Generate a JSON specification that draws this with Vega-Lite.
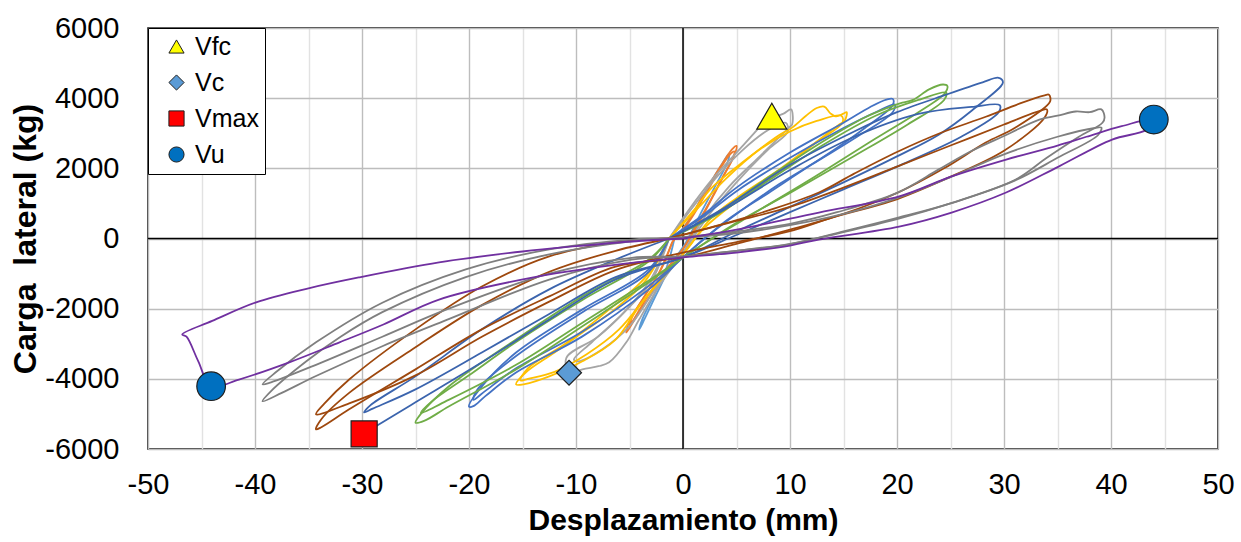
{
"$schema": "https://vega.github.io/schema/vega-lite/v6.json",
"width": 1070, "height": 421,
"autosize": {"type": "none"},
"padding": {"left": 148, "top": 28, "right": 23, "bottom": 93},
"background": "white",
"config": {"view": {"stroke": "#000", "strokeWidth": 1.5}, "font": "Liberation Sans"},
"datasets": {
"loops": [
{"s":"L1","i":0,"x":-0.8,"y":0},{"s":"L1","i":1,"x":0.5,"y":500},{"s":"L1","i":2,"x":2,"y":1300},{"s":"L1","i":3,"x":3.5,"y":2050},{"s":"L1","i":4,"x":4.3,"y":2420},{"s":"L1","i":5,"x":4.2,"y":2200},{"s":"L1","i":6,"x":3.2,"y":1600},{"s":"L1","i":7,"x":1.8,"y":800},{"s":"L1","i":8,"x":0.3,"y":-100},{"s":"L1","i":9,"x":-1,"y":-700},{"s":"L1","i":10,"x":-2.5,"y":-1600},{"s":"L1","i":11,"x":-3.6,"y":-2300},{"s":"L1","i":12,"x":-4.1,"y":-2600},{"s":"L1","i":13,"x":-3.8,"y":-2300},{"s":"L1","i":14,"x":-2.7,"y":-1600},{"s":"L1","i":15,"x":-1.5,"y":-800},{"s":"L1","i":16,"x":-0.8,"y":0},
{"s":"O1","i":0,"x":-1,"y":-100},{"s":"O1","i":1,"x":0.5,"y":500},{"s":"O1","i":2,"x":2,"y":1300},{"s":"O1","i":3,"x":3.5,"y":2050},{"s":"O1","i":4,"x":4.6,"y":2550},{"s":"O1","i":5,"x":5.0,"y":2640},{"s":"O1","i":6,"x":4.9,"y":2450},{"s":"O1","i":7,"x":4,"y":1900},{"s":"O1","i":8,"x":2.8,"y":1200},{"s":"O1","i":9,"x":1.5,"y":450},{"s":"O1","i":10,"x":0,"y":-300},{"s":"O1","i":11,"x":-1.5,"y":-900},{"s":"O1","i":12,"x":-3,"y":-1600},{"s":"O1","i":13,"x":-4.5,"y":-2300},{"s":"O1","i":14,"x":-5.3,"y":-2680},{"s":"O1","i":15,"x":-5.0,"y":-2350},{"s":"O1","i":16,"x":-3.6,"y":-1650},{"s":"O1","i":17,"x":-2.2,"y":-950},{"s":"O1","i":18,"x":-1,"y":-100},
{"s":"O2","i":0,"x":-1,"y":-100},{"s":"O2","i":1,"x":0.5,"y":450},{"s":"O2","i":2,"x":2,"y":1200},{"s":"O2","i":3,"x":3.4,"y":1950},{"s":"O2","i":4,"x":4.4,"y":2400},{"s":"O2","i":5,"x":4.8,"y":2480},{"s":"O2","i":6,"x":4.6,"y":2250},{"s":"O2","i":7,"x":3.7,"y":1750},{"s":"O2","i":8,"x":2.5,"y":1050},{"s":"O2","i":9,"x":1.2,"y":350},{"s":"O2","i":10,"x":0,"y":-300},{"s":"O2","i":11,"x":-1.5,"y":-850},{"s":"O2","i":12,"x":-3,"y":-1500},{"s":"O2","i":13,"x":-4.3,"y":-2150},{"s":"O2","i":14,"x":-5.0,"y":-2500},{"s":"O2","i":15,"x":-4.7,"y":-2200},{"s":"O2","i":16,"x":-3.4,"y":-1550},{"s":"O2","i":17,"x":-2.0,"y":-850},{"s":"O2","i":18,"x":-1,"y":-100},
{"s":"G1","i":0,"x":-1.3,"y":0},{"s":"G1","i":1,"x":0.5,"y":800},{"s":"G1","i":2,"x":2.7,"y":1680},{"s":"G1","i":3,"x":5,"y":2450},{"s":"G1","i":4,"x":7.1,"y":3160},{"s":"G1","i":5,"x":7.7,"y":3400},{"s":"G1","i":6,"x":8.6,"y":3470},{"s":"G1","i":7,"x":9.4,"y":3560},{"s":"G1","i":8,"x":10.1,"y":3680},{"s":"G1","i":9,"x":10.2,"y":3250},{"s":"G1","i":10,"x":9.9,"y":3160},{"s":"G1","i":11,"x":7.2,"y":2350},{"s":"G1","i":12,"x":4.3,"y":1480},{"s":"G1","i":13,"x":2,"y":600},{"s":"G1","i":14,"x":0,"y":-400},{"s":"G1","i":15,"x":-2,"y":-1250},{"s":"G1","i":16,"x":-4.1,"y":-2310},{"s":"G1","i":17,"x":-5.3,"y":-2960},{"s":"G1","i":18,"x":-6.9,"y":-3530},{"s":"G1","i":19,"x":-7.9,"y":-3640},{"s":"G1","i":20,"x":-9.4,"y":-3730},{"s":"G1","i":21,"x":-10.6,"y":-3850},{"s":"G1","i":22,"x":-10.9,"y":-3400},{"s":"G1","i":23,"x":-7.9,"y":-2790},{"s":"G1","i":24,"x":-5,"y":-1950},{"s":"G1","i":25,"x":-3,"y":-1250},{"s":"G1","i":26,"x":-1.3,"y":0},
{"s":"G2","i":0,"x":-1.3,"y":0},{"s":"G2","i":1,"x":0.8,"y":850},{"s":"G2","i":2,"x":3,"y":1700},{"s":"G2","i":3,"x":5.5,"y":2500},{"s":"G2","i":4,"x":8,"y":3100},{"s":"G2","i":5,"x":9.6,"y":3300},{"s":"G2","i":6,"x":9.8,"y":3050},{"s":"G2","i":7,"x":8,"y":2550},{"s":"G2","i":8,"x":5,"y":1600},{"s":"G2","i":9,"x":2.5,"y":700},{"s":"G2","i":10,"x":0,"y":-400},{"s":"G2","i":11,"x":-2.5,"y":-1400},{"s":"G2","i":12,"x":-5,"y":-2500},{"s":"G2","i":13,"x":-7.5,"y":-3150},{"s":"G2","i":14,"x":-9.8,"y":-3500},{"s":"G2","i":15,"x":-10.2,"y":-3450},{"s":"G2","i":16,"x":-8.5,"y":-2950},{"s":"G2","i":17,"x":-5.5,"y":-2100},{"s":"G2","i":18,"x":-3,"y":-1150},{"s":"G2","i":19,"x":-1.3,"y":0},
{"s":"Y1","i":0,"x":-1.3,"y":0},{"s":"Y1","i":1,"x":1,"y":800},{"s":"Y1","i":2,"x":2.7,"y":1450},{"s":"Y1","i":3,"x":5.9,"y":2250},{"s":"Y1","i":4,"x":9,"y":2950},{"s":"Y1","i":5,"x":10.2,"y":3160},{"s":"Y1","i":6,"x":11.5,"y":3500},{"s":"Y1","i":7,"x":12.5,"y":3720},{"s":"Y1","i":8,"x":13.2,"y":3760},{"s":"Y1","i":9,"x":13.8,"y":3560},{"s":"Y1","i":10,"x":14.3,"y":3480},{"s":"Y1","i":11,"x":15.0,"y":3560},{"s":"Y1","i":12,"x":15.3,"y":3600},{"s":"Y1","i":13,"x":15.1,"y":3350},{"s":"Y1","i":14,"x":14.6,"y":3250},{"s":"Y1","i":15,"x":12,"y":2650},{"s":"Y1","i":16,"x":9,"y":1970},{"s":"Y1","i":17,"x":5,"y":1150},{"s":"Y1","i":18,"x":2.7,"y":600},{"s":"Y1","i":19,"x":0,"y":-450},{"s":"Y1","i":20,"x":-2,"y":-1150},{"s":"Y1","i":21,"x":-4.1,"y":-1940},{"s":"Y1","i":22,"x":-6.3,"y":-2880},{"s":"Y1","i":23,"x":-9.4,"y":-3500},{"s":"Y1","i":24,"x":-12.5,"y":-3930},{"s":"Y1","i":25,"x":-14.8,"y":-4150},{"s":"Y1","i":26,"x":-15.6,"y":-4160},{"s":"Y1","i":27,"x":-14.7,"y":-3820},{"s":"Y1","i":28,"x":-12,"y":-3250},{"s":"Y1","i":29,"x":-9.4,"y":-2680},{"s":"Y1","i":30,"x":-6.3,"y":-2000},{"s":"Y1","i":31,"x":-3.5,"y":-1200},{"s":"Y1","i":32,"x":-1.3,"y":0},
{"s":"Y2","i":0,"x":-1.3,"y":0},{"s":"Y2","i":1,"x":1.5,"y":900},{"s":"Y2","i":2,"x":4,"y":1700},{"s":"Y2","i":3,"x":7,"y":2500},{"s":"Y2","i":4,"x":10,"y":3050},{"s":"Y2","i":5,"x":12.5,"y":3350},{"s":"Y2","i":6,"x":14.8,"y":3500},{"s":"Y2","i":7,"x":14.9,"y":3300},{"s":"Y2","i":8,"x":12.5,"y":2750},{"s":"Y2","i":9,"x":9,"y":1900},{"s":"Y2","i":10,"x":5,"y":1050},{"s":"Y2","i":11,"x":2,"y":300},{"s":"Y2","i":12,"x":0,"y":-450},{"s":"Y2","i":13,"x":-3,"y":-1500},{"s":"Y2","i":14,"x":-6,"y":-2600},{"s":"Y2","i":15,"x":-9,"y":-3300},{"s":"Y2","i":16,"x":-12,"y":-3800},{"s":"Y2","i":17,"x":-14.5,"y":-4000},{"s":"Y2","i":18,"x":-15.2,"y":-4050},{"s":"Y2","i":19,"x":-14.5,"y":-3700},{"s":"Y2","i":20,"x":-11,"y":-3000},{"s":"Y2","i":21,"x":-7,"y":-2050},{"s":"Y2","i":22,"x":-3.5,"y":-1100},{"s":"Y2","i":23,"x":-1.3,"y":0},
{"s":"B1","i":0,"x":-1.3,"y":0},{"s":"B1","i":1,"x":2,"y":700},{"s":"B1","i":2,"x":5,"y":1450},{"s":"B1","i":3,"x":10,"y":2450},{"s":"B1","i":4,"x":15,"y":3300},{"s":"B1","i":5,"x":17.5,"y":3750},{"s":"B1","i":6,"x":19,"y":3960},{"s":"B1","i":7,"x":19.6,"y":3980},{"s":"B1","i":8,"x":19.6,"y":3800},{"s":"B1","i":9,"x":17,"y":3150},{"s":"B1","i":10,"x":13,"y":2300},{"s":"B1","i":11,"x":9,"y":1550},{"s":"B1","i":12,"x":5,"y":700},{"s":"B1","i":13,"x":2,"y":0},{"s":"B1","i":14,"x":0,"y":-540},{"s":"B1","i":15,"x":-3.2,"y":-1450},{"s":"B1","i":16,"x":-9.4,"y":-2790},{"s":"B1","i":17,"x":-15.6,"y":-3820},{"s":"B1","i":18,"x":-18.5,"y":-4500},{"s":"B1","i":19,"x":-19.6,"y":-4780},{"s":"B1","i":20,"x":-20,"y":-4790},{"s":"B1","i":21,"x":-18.8,"y":-4220},{"s":"B1","i":22,"x":-15.6,"y":-3250},{"s":"B1","i":23,"x":-9.4,"y":-2020},{"s":"B1","i":24,"x":-3.2,"y":-880},{"s":"B1","i":25,"x":-1.3,"y":0},
{"s":"B2","i":0,"x":-1.3,"y":0},{"s":"B2","i":1,"x":2,"y":650},{"s":"B2","i":2,"x":5,"y":1350},{"s":"B2","i":3,"x":10,"y":2300},{"s":"B2","i":4,"x":15,"y":3150},{"s":"B2","i":5,"x":18,"y":3600},{"s":"B2","i":6,"x":19.8,"y":3820},{"s":"B2","i":7,"x":19.6,"y":3600},{"s":"B2","i":8,"x":16,"y":2850},{"s":"B2","i":9,"x":12,"y":2100},{"s":"B2","i":10,"x":8,"y":1300},{"s":"B2","i":11,"x":4,"y":500},{"s":"B2","i":12,"x":0,"y":-540},{"s":"B2","i":13,"x":-3.2,"y":-1350},{"s":"B2","i":14,"x":-9.4,"y":-2650},{"s":"B2","i":15,"x":-15.6,"y":-3700},{"s":"B2","i":16,"x":-18.5,"y":-4350},{"s":"B2","i":17,"x":-19.6,"y":-4600},{"s":"B2","i":18,"x":-19.2,"y":-4300},{"s":"B2","i":19,"x":-15.6,"y":-3350},{"s":"B2","i":20,"x":-9.4,"y":-2100},{"s":"B2","i":21,"x":-3.2,"y":-950},{"s":"B2","i":22,"x":-1.3,"y":0},
{"s":"E1","i":0,"x":-1.3,"y":0},{"s":"E1","i":1,"x":3,"y":700},{"s":"E1","i":2,"x":8,"y":1750},{"s":"E1","i":3,"x":13,"y":2750},{"s":"E1","i":4,"x":17,"y":3450},{"s":"E1","i":5,"x":19.8,"y":3800},{"s":"E1","i":6,"x":20.5,"y":3870},{"s":"E1","i":7,"x":21.5,"y":3950},{"s":"E1","i":8,"x":23,"y":4250},{"s":"E1","i":9,"x":24.3,"y":4390},{"s":"E1","i":10,"x":24.7,"y":4350},{"s":"E1","i":11,"x":24.5,"y":4150},{"s":"E1","i":12,"x":22,"y":3600},{"s":"E1","i":13,"x":18,"y":2850},{"s":"E1","i":14,"x":12,"y":1700},{"s":"E1","i":15,"x":6,"y":600},{"s":"E1","i":16,"x":0,"y":-540},{"s":"E1","i":17,"x":-3.2,"y":-1250},{"s":"E1","i":18,"x":-9.4,"y":-2500},{"s":"E1","i":19,"x":-15.6,"y":-3730},{"s":"E1","i":20,"x":-21.9,"y":-4790},{"s":"E1","i":21,"x":-24.2,"y":-5200},{"s":"E1","i":22,"x":-25,"y":-5250},{"s":"E1","i":23,"x":-24.5,"y":-5000},{"s":"E1","i":24,"x":-21.9,"y":-4220},{"s":"E1","i":25,"x":-15.6,"y":-2880},{"s":"E1","i":26,"x":-9.4,"y":-1650},{"s":"E1","i":27,"x":-3.2,"y":-600},{"s":"E1","i":28,"x":-1.3,"y":0},
{"s":"E2","i":0,"x":-1.3,"y":0},{"s":"E2","i":1,"x":3,"y":650},{"s":"E2","i":2,"x":8,"y":1650},{"s":"E2","i":3,"x":13,"y":2650},{"s":"E2","i":4,"x":18,"y":3500},{"s":"E2","i":5,"x":22,"y":3950},{"s":"E2","i":6,"x":24.6,"y":4160},{"s":"E2","i":7,"x":24.4,"y":3950},{"s":"E2","i":8,"x":21,"y":3250},{"s":"E2","i":9,"x":16,"y":2350},{"s":"E2","i":10,"x":10,"y":1300},{"s":"E2","i":11,"x":5,"y":450},{"s":"E2","i":12,"x":0,"y":-540},{"s":"E2","i":13,"x":-3.2,"y":-1200},{"s":"E2","i":14,"x":-9.4,"y":-2400},{"s":"E2","i":15,"x":-15.6,"y":-3600},{"s":"E2","i":16,"x":-21.9,"y":-4600},{"s":"E2","i":17,"x":-24.5,"y":-4970},{"s":"E2","i":18,"x":-23.5,"y":-4650},{"s":"E2","i":19,"x":-20,"y":-3900},{"s":"E2","i":20,"x":-15.6,"y":-2950},{"s":"E2","i":21,"x":-9.4,"y":-1750},{"s":"E2","i":22,"x":-3.2,"y":-650},{"s":"E2","i":23,"x":-1.3,"y":0},
{"s":"D1","i":0,"x":-1.3,"y":0},{"s":"D1","i":1,"x":4,"y":900},{"s":"D1","i":2,"x":10,"y":2100},{"s":"D1","i":3,"x":16,"y":3050},{"s":"D1","i":4,"x":20,"y":3600},{"s":"D1","i":5,"x":24.6,"y":4100},{"s":"D1","i":6,"x":28,"y":4450},{"s":"D1","i":7,"x":29.5,"y":4580},{"s":"D1","i":8,"x":29.9,"y":4450},{"s":"D1","i":9,"x":27,"y":3650},{"s":"D1","i":10,"x":23.9,"y":2960},{"s":"D1","i":11,"x":20,"y":2340},{"s":"D1","i":12,"x":15,"y":1600},{"s":"D1","i":13,"x":10,"y":900},{"s":"D1","i":14,"x":5,"y":200},{"s":"D1","i":15,"x":0,"y":-540},{"s":"D1","i":16,"x":-6.3,"y":-1100},{"s":"D1","i":17,"x":-12.5,"y":-2150},{"s":"D1","i":18,"x":-18.8,"y":-3250},{"s":"D1","i":19,"x":-25,"y":-4300},{"s":"D1","i":20,"x":-29,"y":-4850},{"s":"D1","i":21,"x":-29.8,"y":-4960},{"s":"D1","i":22,"x":-29.2,"y":-4750},{"s":"D1","i":23,"x":-25,"y":-3930},{"s":"D1","i":24,"x":-18.8,"y":-2590},{"s":"D1","i":25,"x":-12.5,"y":-1450},{"s":"D1","i":26,"x":-6.3,"y":-600},{"s":"D1","i":27,"x":-1.3,"y":0},
{"s":"D2","i":0,"x":-1.3,"y":0},{"s":"D2","i":1,"x":4,"y":850},{"s":"D2","i":2,"x":10,"y":1950},{"s":"D2","i":3,"x":16,"y":2900},{"s":"D2","i":4,"x":22,"y":3550},{"s":"D2","i":5,"x":27,"y":3750},{"s":"D2","i":6,"x":29.6,"y":3800},{"s":"D2","i":7,"x":29.5,"y":3600},{"s":"D2","i":8,"x":26,"y":2900},{"s":"D2","i":9,"x":20,"y":2050},{"s":"D2","i":10,"x":15,"y":1400},{"s":"D2","i":11,"x":10,"y":750},{"s":"D2","i":12,"x":5,"y":100},{"s":"D2","i":13,"x":0,"y":-540},{"s":"D2","i":14,"x":-6.3,"y":-1170},{"s":"D2","i":15,"x":-12.5,"y":-2310},{"s":"D2","i":16,"x":-18.8,"y":-3530},{"s":"D2","i":17,"x":-25,"y":-4670},{"s":"D2","i":18,"x":-28.7,"y":-5350},{"s":"D2","i":19,"x":-29.7,"y":-5530},
{"s":"R1","i":0,"x":-1.3,"y":0},{"s":"R1","i":1,"x":3,"y":350},{"s":"R1","i":2,"x":8,"y":800},{"s":"R1","i":3,"x":12.7,"y":1310},{"s":"R1","i":4,"x":16,"y":1850},{"s":"R1","i":5,"x":20.1,"y":2480},{"s":"R1","i":6,"x":24,"y":3000},{"s":"R1","i":7,"x":28.3,"y":3470},{"s":"R1","i":8,"x":31.5,"y":3850},{"s":"R1","i":9,"x":33.8,"y":4080},{"s":"R1","i":10,"x":34.2,"y":4100},{"s":"R1","i":11,"x":34.3,"y":3900},{"s":"R1","i":12,"x":31,"y":3150},{"s":"R1","i":13,"x":28.3,"y":2735},{"s":"R1","i":14,"x":24.4,"y":2000},{"s":"R1","i":15,"x":20.1,"y":1310},{"s":"R1","i":16,"x":15,"y":700},{"s":"R1","i":17,"x":10,"y":250},{"s":"R1","i":18,"x":5,"y":-150},{"s":"R1","i":19,"x":0,"y":-540},{"s":"R1","i":20,"x":-6.3,"y":-800},{"s":"R1","i":21,"x":-12.5,"y":-1650},{"s":"R1","i":22,"x":-18.8,"y":-2590},{"s":"R1","i":23,"x":-25,"y":-3730},{"s":"R1","i":24,"x":-31.2,"y":-4870},{"s":"R1","i":25,"x":-33.8,"y":-5380},{"s":"R1","i":26,"x":-34.3,"y":-5440},{"s":"R1","i":27,"x":-33.8,"y":-5150},{"s":"R1","i":28,"x":-31.2,"y":-4400},{"s":"R1","i":29,"x":-25,"y":-3100},{"s":"R1","i":30,"x":-18.8,"y":-1900},{"s":"R1","i":31,"x":-12.5,"y":-950},{"s":"R1","i":32,"x":-6.3,"y":-350},{"s":"R1","i":33,"x":-1.3,"y":0},
{"s":"R2","i":0,"x":-1.3,"y":0},{"s":"R2","i":1,"x":5,"y":500},{"s":"R2","i":2,"x":10,"y":900},{"s":"R2","i":3,"x":15,"y":1450},{"s":"R2","i":4,"x":20,"y":2050},{"s":"R2","i":5,"x":25,"y":2650},{"s":"R2","i":6,"x":30,"y":3250},{"s":"R2","i":7,"x":33,"y":3600},{"s":"R2","i":8,"x":34,"y":3680},{"s":"R2","i":9,"x":33.8,"y":3450},{"s":"R2","i":10,"x":30,"y":2500},{"s":"R2","i":11,"x":24.4,"y":1680},{"s":"R2","i":12,"x":19.6,"y":1080},{"s":"R2","i":13,"x":14,"y":600},{"s":"R2","i":14,"x":9.9,"y":200},{"s":"R2","i":15,"x":5,"y":-100},{"s":"R2","i":16,"x":0,"y":-400},{"s":"R2","i":17,"x":-6.3,"y":-900},{"s":"R2","i":18,"x":-12.5,"y":-1800},{"s":"R2","i":19,"x":-18.8,"y":-2800},{"s":"R2","i":20,"x":-25,"y":-3900},{"s":"R2","i":21,"x":-31.2,"y":-4700},{"s":"R2","i":22,"x":-34.3,"y":-5010},{"s":"R2","i":23,"x":-33.5,"y":-4700},{"s":"R2","i":24,"x":-31.2,"y":-4020},{"s":"R2","i":25,"x":-25,"y":-2590},{"s":"R2","i":26,"x":-18.8,"y":-1370},{"s":"R2","i":27,"x":-12.5,"y":-510},{"s":"R2","i":28,"x":-6.3,"y":-110},{"s":"R2","i":29,"x":-1.3,"y":0},
{"s":"K1","i":0,"x":-1.3,"y":0},{"s":"K1","i":1,"x":5,"y":200},{"s":"K1","i":2,"x":10,"y":420},{"s":"K1","i":3,"x":14.4,"y":750},{"s":"K1","i":4,"x":20,"y":1300},{"s":"K1","i":5,"x":23.9,"y":1970},{"s":"K1","i":6,"x":27,"y":2500},{"s":"K1","i":7,"x":30.2,"y":2950},{"s":"K1","i":8,"x":33.3,"y":3390},{"s":"K1","i":9,"x":35,"y":3500},{"s":"K1","i":10,"x":36.7,"y":3620},{"s":"K1","i":11,"x":38,"y":3600},{"s":"K1","i":12,"x":39.1,"y":3680},{"s":"K1","i":13,"x":39.4,"y":3450},{"s":"K1","i":14,"x":39.2,"y":3300},{"s":"K1","i":15,"x":37,"y":2900},{"s":"K1","i":16,"x":34,"y":2300},{"s":"K1","i":17,"x":31.1,"y":1680},{"s":"K1","i":18,"x":25,"y":1000},{"s":"K1","i":19,"x":20.2,"y":600},{"s":"K1","i":20,"x":15,"y":200},{"s":"K1","i":21,"x":9.9,"y":-170},{"s":"K1","i":22,"x":5,"y":-350},{"s":"K1","i":23,"x":0,"y":-510},{"s":"K1","i":24,"x":-4.8,"y":-600},{"s":"K1","i":25,"x":-12.5,"y":-1170},{"s":"K1","i":26,"x":-21.9,"y":-2300},{"s":"K1","i":27,"x":-28.1,"y":-3070},{"s":"K1","i":28,"x":-34.3,"y":-3920},{"s":"K1","i":29,"x":-37.5,"y":-4400},{"s":"K1","i":30,"x":-39.3,"y":-4640},{"s":"K1","i":31,"x":-38.5,"y":-4350},{"s":"K1","i":32,"x":-35.2,"y":-3500},{"s":"K1","i":33,"x":-32,"y":-2800},{"s":"K1","i":34,"x":-28.1,"y":-2100},{"s":"K1","i":35,"x":-20.3,"y":-1100},{"s":"K1","i":36,"x":-12.5,"y":-450},{"s":"K1","i":37,"x":-4.8,"y":-80},{"s":"K1","i":38,"x":-1.3,"y":0},
{"s":"K2","i":0,"x":-1.3,"y":0},{"s":"K2","i":1,"x":5,"y":150},{"s":"K2","i":2,"x":10,"y":380},{"s":"K2","i":3,"x":15,"y":700},{"s":"K2","i":4,"x":20,"y":1150},{"s":"K2","i":5,"x":25,"y":1750},{"s":"K2","i":6,"x":30,"y":2400},{"s":"K2","i":7,"x":35,"y":2900},{"s":"K2","i":8,"x":38.5,"y":3150},{"s":"K2","i":9,"x":39.1,"y":3160},{"s":"K2","i":10,"x":38.8,"y":2950},{"s":"K2","i":11,"x":35,"y":2300},{"s":"K2","i":12,"x":31,"y":1650},{"s":"K2","i":13,"x":25,"y":1000},{"s":"K2","i":14,"x":20,"y":550},{"s":"K2","i":15,"x":15,"y":180},{"s":"K2","i":16,"x":10,"y":-150},{"s":"K2","i":17,"x":5,"y":-350},{"s":"K2","i":18,"x":0,"y":-510},{"s":"K2","i":19,"x":-4.8,"y":-550},{"s":"K2","i":20,"x":-12.5,"y":-1000},{"s":"K2","i":21,"x":-21.9,"y":-2000},{"s":"K2","i":22,"x":-28.1,"y":-2800},{"s":"K2","i":23,"x":-34.3,"y":-3600},{"s":"K2","i":24,"x":-38.5,"y":-4100},{"s":"K2","i":25,"x":-39.3,"y":-4160},{"s":"K2","i":26,"x":-38,"y":-3800},{"s":"K2","i":27,"x":-34.3,"y":-2960},{"s":"K2","i":28,"x":-28.1,"y":-1830},{"s":"K2","i":29,"x":-20.3,"y":-880},{"s":"K2","i":30,"x":-12.5,"y":-310},{"s":"K2","i":31,"x":-4.8,"y":-30},{"s":"K2","i":32,"x":-1.3,"y":0},
{"s":"P1","i":0,"x":0,"y":0},{"s":"P1","i":1,"x":5,"y":250},{"s":"P1","i":2,"x":12.7,"y":740},{"s":"P1","i":3,"x":20.2,"y":1200},{"s":"P1","i":4,"x":25.1,"y":1770},{"s":"P1","i":5,"x":30.2,"y":2250},{"s":"P1","i":6,"x":35,"y":2650},{"s":"P1","i":7,"x":37.7,"y":2900},{"s":"P1","i":8,"x":41,"y":3200},{"s":"P1","i":9,"x":44,"y":3400},{"s":"P1","i":10,"x":43.3,"y":3100},{"s":"P1","i":11,"x":40.1,"y":2820},{"s":"P1","i":12,"x":35.1,"y":2050},{"s":"P1","i":13,"x":30.2,"y":1310},{"s":"P1","i":14,"x":25.1,"y":740},{"s":"P1","i":15,"x":20.2,"y":340},{"s":"P1","i":16,"x":12.7,"y":-30},{"s":"P1","i":17,"x":10,"y":-200},{"s":"P1","i":18,"x":5,"y":-400},{"s":"P1","i":19,"x":0,"y":-540},{"s":"P1","i":20,"x":-5,"y":-700},{"s":"P1","i":21,"x":-13.5,"y":-1080},{"s":"P1","i":22,"x":-22.8,"y":-1740},{"s":"P1","i":23,"x":-28,"y":-2450},{"s":"P1","i":24,"x":-32.1,"y":-2960},{"s":"P1","i":25,"x":-36.8,"y":-3530},{"s":"P1","i":26,"x":-41.5,"y":-4020},{"s":"P1","i":27,"x":-44.1,"y":-4210},{"s":"P1","i":28,"x":-45.3,"y":-3500},{"s":"P1","i":29,"x":-46.4,"y":-2800},{"s":"P1","i":30,"x":-46.8,"y":-2735},{"s":"P1","i":31,"x":-44,"y":-2350},{"s":"P1","i":32,"x":-39.9,"y":-1820},{"s":"P1","i":33,"x":-35,"y":-1420},{"s":"P1","i":34,"x":-30.3,"y":-1110},{"s":"P1","i":35,"x":-22.8,"y":-680},{"s":"P1","i":36,"x":-15,"y":-370},{"s":"P1","i":37,"x":-10,"y":-220},{"s":"P1","i":38,"x":-4.8,"y":-85},{"s":"P1","i":39,"x":0,"y":0}
],
"marks": [
{"type":"Vfc","x":8.3,"y":3485},
{"type":"Vc","x":-10.65,"y":-3827},
{"type":"Vmax","x":-29.8,"y":-5570},
{"type":"Vu","x":-44.1,"y":-4210},
{"type":"Vu","x":44.0,"y":3390}
]
},
"layer": [
{
"data": {"values": [{}]},
"mark": {"type": "rule", "color": "#000", "strokeWidth": 1.5},
"encoding": {"x": {"datum": 0, "type": "quantitative"}}
},
{
"data": {"values": [{}]},
"mark": {"type": "rule", "color": "#000", "strokeWidth": 1.5},
"encoding": {"y": {"datum": 0, "type": "quantitative"}}
},
{
"data": {"name": "loops"},
"mark": {"type": "line", "strokeWidth": 1.8, "interpolate": "catmull-rom"},
"encoding": {
"x": {"field": "x", "type": "quantitative",
"scale": {"domain": [-50, 50], "nice": false, "zero": false},
"axis": {"values": [-50,-45,-40,-35,-30,-25,-20,-15,-10,-5,0,5,10,15,20,25,30,35,40,45,50],
"labelExpr": "datum.value % 10 === 0 ? '' + datum.value : ''",
"grid": true,
"gridColor": {"condition": {"test": "datum.value % 10 === 0", "value": "#BDBDBD"}, "value": "#E2E2E2"},
"gridWidth": 1.4, "domain": false, "ticks": false,
"labelFont": "Liberation Sans", "labelFontSize": 29, "labelColor": "#000", "labelPadding": 21, "labelFlush": false,
"title": "Desplazamiento (mm)", "titleFont": "Liberation Sans", "titleFontSize": 30, "titleFontWeight": "bold", "titleColor": "#000", "titlePadding": 6}},
"y": {"field": "y", "type": "quantitative",
"scale": {"domain": [-6000, 6000], "nice": false, "zero": false},
"axis": {"values": [-6000,-5000,-4000,-3000,-2000,-1000,0,1000,2000,3000,4000,5000,6000],
"labelExpr": "datum.value % 2000 === 0 ? '' + datum.value : ''",
"grid": true,
"gridColor": {"condition": {"test": "datum.value % 2000 === 0", "value": "#BDBDBD"}, "value": "#E2E2E2"},
"gridWidth": 1.4, "domain": false, "ticks": false,
"labelFont": "Liberation Sans", "labelFontSize": 29, "labelColor": "#000", "labelPadding": 29, "labelFlush": false,
"title": "Carga\u00a0 lateral (kg)", "titleFont": "Liberation Sans", "titleFontSize": 32, "titleFontWeight": "bold", "titleColor": "#000", "titlePadding": 2}},
"stroke": {"field": "s", "type": "nominal", "legend": null,
"scale": {"domain": ["L1","O1","O2","G1","G2","Y1","Y2","B1","B2","E1","E2","D1","D2","R1","R2","K1","K2","P1"],
"range": ["#5B9BD5","#ED7D31","#ED7D31","#A5A5A5","#A5A5A5","#FFC000","#FFC000","#4472C4","#4472C4","#70AD47","#70AD47","#3B64AD","#3B64AD","#9E480E","#9E480E","#7F7F7F","#7F7F7F","#7030A0"]}},
"order": {"field": "i", "type": "quantitative"}
}
},
{
"data": {"name": "marks"},
"mark": {"type": "point", "filled": true, "opacity": 1, "stroke": "#1E1E1E", "strokeWidth": 1.2},
"encoding": {
"x": {"field": "x", "type": "quantitative"},
"y": {"field": "y", "type": "quantitative"},
"color": {"field": "type", "type": "nominal",
"scale": {"domain": ["Vfc","Vc","Vmax","Vu"], "range": ["#FFFF00","#5B9BD5","#FF0000","#0070C0"]},
"legend": {"title": null, "orient": "top-left", "offset": 0, "padding": 6, "symbolOffset": 10,
"strokeColor": "#000", "fillColor": "#fff", "cornerRadius": 0,
"labelFont": "Liberation Sans", "labelFontSize": 25, "labelColor": "#000", "labelOffset": 6,
"symbolSize": 230, "rowPadding": 10, "symbolStrokeColor": "#1E1E1E", "symbolStrokeWidth": 1}},
"shape": {"field": "type", "type": "nominal",
"scale": {"domain": ["Vfc","Vc","Vmax","Vu"], "range": ["triangle-up","diamond","square","circle"]}},
"size": {"condition": [{"test": "datum.type === 'Vfc'", "value": 900}, {"test": "datum.type === 'Vc'", "value": 620}, {"test": "datum.type === 'Vmax'", "value": 680}], "value": 820}
}
}
]
}
